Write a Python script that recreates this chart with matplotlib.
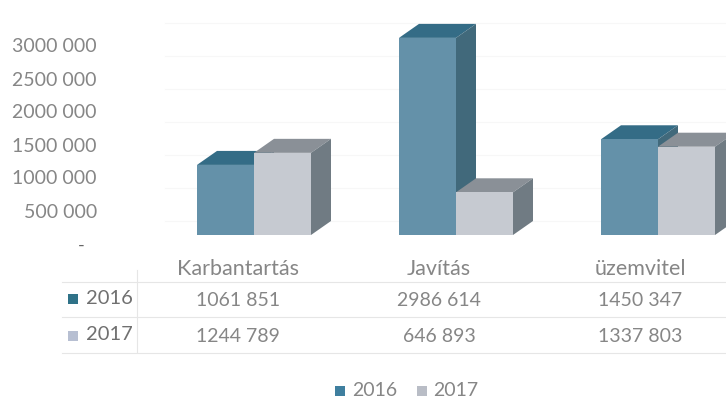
import matplotlib
matplotlib.use('Agg')
import matplotlib.pyplot as plt
from matplotlib.patches import Polygon

categories = ['Karbantartás', 'Javítás', 'üzemvitel']
values_2016 = [1061851, 2986614, 1450347]
values_2017 = [1244789, 646893, 1337803]
label_2016 = ['1061 851', '2986 614', '1450 347']
label_2017 = ['1244 789', '646 893', '1337 803']
y_ticks = [500000, 1000000, 1500000, 2000000, 2500000, 3000000]
y_tick_labels = ['500 000', '1000 000', '1500 000', '2000 000', '2500 000', '3000 000']

W, H = 726, 401
PX_X = 202.0
PX_Y = 66.0 / 1e6
X0, Y0 = 254, 235

plt.rcParams['font.family'] = ['Lato', 'DejaVu Sans']
fig = plt.figure(figsize=(W / 100, H / 100), dpi=100)
ax = fig.add_axes([0, 0, 1, 1])
ax.set_xlim(-X0 / PX_X, (W - X0) / PX_X)
ax.set_ylim(-(H - Y0) / PX_Y, Y0 / PX_Y)
ax.axis('off')

text_col = '#868686'
grid_col = '#f7f7f7'
line_col = '#e6e6e6'


def px(x, y):
    # picture pixels -> data coords, for the text and table lines
    return (x - X0) / PX_X, (Y0 - y) / PX_Y


bar_w = 57 / PX_X
dx = 20 / PX_X
dy = 14 / PX_Y


def bar3d(x, val, front, top, side):
    ax.bar(x, val, width=bar_w, align='edge', color=front, linewidth=0, zorder=3)
    ax.add_patch(Polygon([(x, val), (x + bar_w, val), (x + bar_w + dx, val + dy), (x + dx, val + dy)],
                         color=top, linewidth=0, zorder=2))
    ax.add_patch(Polygon([(x + bar_w, 0), (x + bar_w + dx, dy), (x + bar_w + dx, val + dy), (x + bar_w, val)],
                         color=side, linewidth=0, zorder=2))


# faint back wall grid
for t in [0] + y_ticks:
    yy = t + dy
    ax.plot([px(165, 0)[0], px(726, 0)[0]], [yy, yy], color=grid_col, lw=0.8, zorder=1)

for i in range(len(categories)):
    bar3d(i - bar_w, values_2016[i], '#6491a9', '#346c86', '#41697b')
    bar3d(i, values_2017[i], '#c6cad1', '#8a9097', '#707b83')

# y axis labels
for t, lab in zip(y_ticks, y_tick_labels):
    ax.text(*px(97, Y0 + 10 - t * PX_Y), lab, ha='right', va='center', fontsize=14, color=text_col)
ax.text(*px(81, 246), '-', ha='center', va='center', fontsize=13, color='#666666')

# data table under the chart
for yy in [282, 317, 353]:
    x_, y_ = px(62, yy)
    ax.plot([x_, px(726, 0)[0]], [y_, y_], color=line_col, lw=0.8)
x_, y_ = px(137, 270)
ax.plot([x_, x_], [y_, px(0, 352)[1]], color=line_col, lw=0.8)

for i, cat in enumerate(categories):
    cx = 238 + i * 201
    ax.text(*px(cx, 269), cat, ha='center', va='center', fontsize=15.5, color=text_col)
    ax.text(*px(cx, 300), label_2016[i], ha='center', va='center', fontsize=14, color=text_col)
    ax.text(*px(cx, 337), label_2017[i], ha='center', va='center', fontsize=14, color=text_col)

ax.plot(*px(73, 299), 's', ms=7.5, color='#2f7288', mew=0)
ax.plot(*px(73, 336), 's', ms=7.5, color='#b7bfd2', mew=0)
ax.text(*px(86, 298), '2016', ha='left', va='center', fontsize=14.5, color='#707070')
ax.text(*px(86, 335), '2017', ha='left', va='center', fontsize=14.5, color='#707070')

# legend
ax.plot(*px(340, 391), 's', ms=7.5, color='#3f7f9f', mew=0)
ax.text(*px(352, 390), '2016', ha='left', va='center', fontsize=14, color=text_col)
ax.plot(*px(422, 391), 's', ms=7.5, color='#b9bdc6', mew=0)
ax.text(*px(433, 390), '2017', ha='left', va='center', fontsize=14, color=text_col)

fig.savefig('out.png', dpi=100)
